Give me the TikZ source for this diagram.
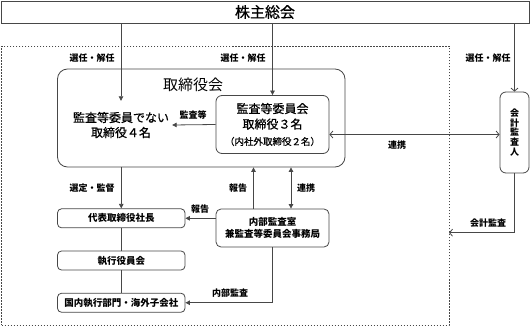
\documentclass[tikz,border=0pt]{standalone}
\usepackage{fontspec}
\setmainfont{Noto Sans CJK JP}
\newfontfamily\medfont[FakeBold=0.6]{Noto Sans CJK JP}
\usetikzlibrary{arrows.meta}

\tikzset{
  ln/.style={draw=black!72, line width=0.8pt},
  fillarr/.style={ln, -{Triangle[length=4.5pt,width=4.5pt]}},
  fillboth/.style={ln, {Triangle[length=4.5pt,width=4.5pt]}-{Triangle[length=4.5pt,width=4.5pt]}},
  openarr/.style={ln, -{Straight Barb[length=3pt,width=7pt]}},
  openboth/.style={ln, {Straight Barb[length=3pt,width=7pt]}-{Straight Barb[length=3pt,width=7pt]}},
  lbl/.style={font=\fontsize{9}{10}\selectfont\bfseries, inner sep=1pt},
  smallbox/.style={ln, rounded corners=4pt, minimum width=127.5pt, minimum height=19pt,
    inner sep=0pt, font=\fontsize{9.5}{11}\selectfont\bfseries},
}

\begin{document}
\begin{tikzpicture}[x=1pt,y=-1pt]
    \useasboundingbox (0,0) rectangle (530,326);

    % Header
    \node[ln, minimum width=528pt, minimum height=22pt, inner sep=0pt,
      font=\fontsize{15}{16}\selectfont\medfont] (gm) at (265,12) {株主総会};

    % Dotted frame
    \node[draw=black!72, line width=0.8pt, dash pattern=on 1.5pt off 1.5pt,
      minimum width=447.5pt, minimum height=279pt, inner sep=0pt] (grp) at (225.25,185.5) {};

    % Board of directors
    \node[ln, rounded corners=10pt, minimum width=287.5pt, minimum height=98pt] (board) at (201.25,118) {};
    \node[font=\fontsize{15}{16}\selectfont, inner sep=0pt] (boardttl) at (193,84.5) {取締役会};
    \node[font=\fontsize{12}{15}\selectfont\medfont, align=center, minimum height=48pt, inner sep=3pt]
      (nondir) at (121,125) {監査等委員でない\\取締役４名};
    \node[ln, rounded corners=6pt, minimum width=113pt, minimum height=58pt, align=center,
      font=\fontsize{12}{15.5}\selectfont\medfont] (ac) at (272.5,124.5)
      {監査等委員会\\取締役３名\\[1pt]{\fontsize{9.5}{11}\selectfont （内社外取締役２名）}};

    % Accounting auditor
    \node[ln, rounded corners=6pt, minimum width=29pt, minimum height=81pt, inner sep=0pt,
      align=center, font=\fontsize{9}{9.6}\selectfont\bfseries] (auditor) at (514.5,132.5)
      {会\\計\\監\\査\\人};

    % Executive side
    \foreach \name/\y/\txt in {ceo/218.3/代表取締役社長, exec/260.5/執行役員会, dom/302.75/国内執行部門・海外子会社} {
        \node[smallbox] (\name) at (121.25,\y) {\txt};
    }
    \node[ln, rounded corners=5pt, minimum width=113pt, minimum height=38pt, align=center,
      font=\fontsize{9.5}{12}\selectfont\bfseries] (ia) at (272.5,228) {内部監査室\\兼監査等委員会事務局};
    \coordinate (audend) at (449,232.7);

    % Connectors
    \draw[fillarr] (gm.south -| nondir) -- (nondir.north);
    \draw[fillarr] (gm.south -| ac) -- (ac.north);
    \draw[openarr] (gm.south -| auditor) -- (auditor.north);
    \draw[fillarr] (ac.west) -- (nondir.east);
    \draw[openboth] ([yshift=-10pt]ac.east) -- ([yshift=-10pt]ac.east -| auditor.west);
    \draw[fillarr] (board.south -| ceo) -- (ceo.north);
    \draw[ln] (ceo) -- (exec);
    \draw[ln] (exec) -- (dom);
    \draw[fillarr] (ia.west |- ceo) -- (ceo.east);
    \draw[fillarr] ([xshift=-19pt]ia.north) -- ([xshift=-19pt]ia.north |- board.south);
    \draw[fillboth] ([xshift=18.5pt]ia.north) -- ([xshift=18.5pt]ia.north |- board.south);
    \draw[fillarr] (ia.south) |- (dom.east);
    \draw[openarr] (auditor.south) |- (audend);

    % Labels
    \foreach \x/\y/\t [count=\i] in {92/58/選任・解任, 243/58/選任・解任, 488/58/選任・解任,
        193/115/監査等, 397/145/連携, 92/188/選定・監督, 238/188/報告, 306/188/連携,
        200/209/報告, 230/293/内部監査, 488/223.5/会計監査} {
        \node[lbl] (lbl\i) at (\x,\y) {\t};
    }

\end{tikzpicture}
\end{document}
